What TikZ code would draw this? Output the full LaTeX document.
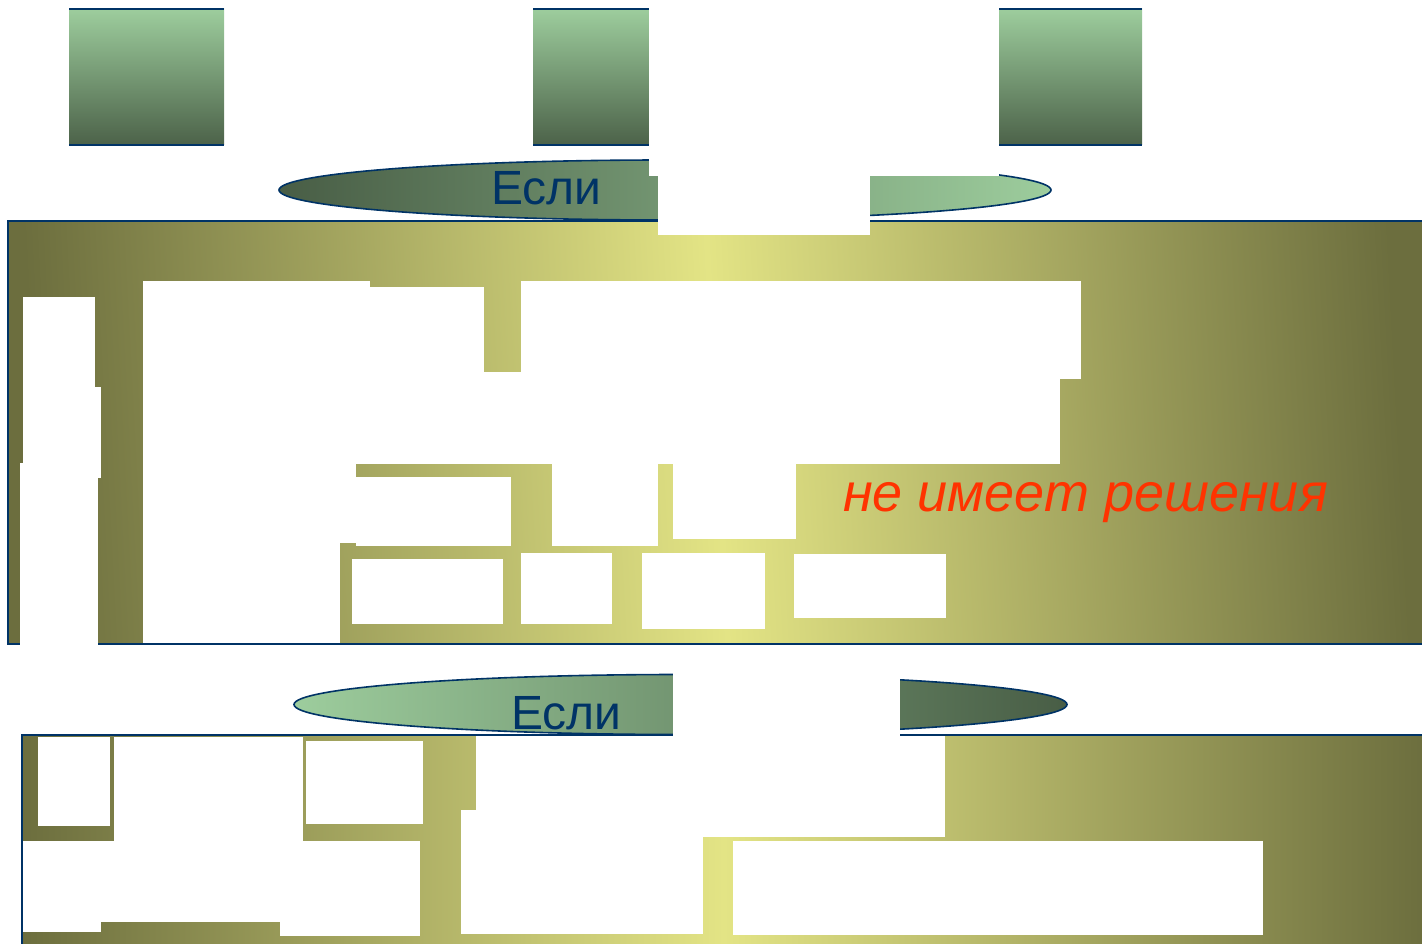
\documentclass[tikz,border=0pt]{standalone}
\usepackage{fontspec}
\setmainfont{Liberation Sans}
\definecolor{bord}{RGB}{0,51,102}
\definecolor{olivedark}{RGB}{108,110,62}
\definecolor{olivelight}{RGB}{227,228,133}
\definecolor{greenlight}{RGB}{157,205,157}
\definecolor{greendark}{RGB}{76,98,73}
\definecolor{redtext}{RGB}{255,51,0}
\tikzset{
  bordline/.style={draw=bord, line width=2pt},
  sq/.style={top color=greenlight, bottom color=greendark},
  blank/.style={fill=white},
  esli/.style={inner sep=0pt, anchor=base west, text=bord, font=\fontsize{48}{50}\selectfont},
}
\begin{document}
\begin{tikzpicture}[x=1pt,y=-1pt]
\useasboundingbox (0,0) rectangle (1422,944);
% top squares
\foreach \a/\b in {69/224, 533/649, 999/1142}{
  \shade[sq] (\a,9) rectangle (\b,145);
  \draw[bordline] (\a,9) -- (\b,9);
  \draw[bordline] (\a,145) -- (\b,145);
}
% ellipse 1
\shade[left color=greendark!95!black, right color=greenlight] (665,190) ellipse [x radius=386, y radius=30];
\draw[bord, line width=1.6pt] (665,190) ellipse [x radius=386, y radius=30];
\fill[blank] (649,0) rectangle (999,176);
% panel 1
\shade[left color=olivedark, right color=olivedark, middle color=olivelight, shading angle=93] (8,221) rectangle (1425,644);
\draw[bordline] (1425,221) -- (8,221) -- (8,644) -- (1425,644);
\fill[blank] (658,176) rectangle (870,235);
% panel 1 blanks
\fill[blank] (23,297) rectangle (95,463);
\fill[blank] (23,387) rectangle (101,478);
\fill[blank] (20,463) rectangle (98,646);
\fill[blank] (143,281) rectangle (340,643);
\fill[blank] (143,281) rectangle (370,372);
\fill[blank] (370,287) rectangle (484,372);
\fill[blank] (521,281) rectangle (1081,379);
\fill[blank] (143,372) rectangle (1060,464);
\fill[blank] (143,372) rectangle (356,543);
\fill[blank] (356,477) rectangle (511,546);
\fill[blank] (552,464) rectangle (658,546);
\fill[blank] (673,464) rectangle (796,539);
\fill[blank] (352,559) rectangle (503,624);
\fill[blank] (521,553) rectangle (612,624);
\fill[blank] (642,553) rectangle (765,629);
\fill[blank] (794,554) rectangle (946,618);
\node[esli] (esli1) at (491,205) {Если};
\node[inner sep=0pt, anchor=base west, text=redtext, font=\fontsize{54}{58}\selectfont\itshape] (nores) at (843,511) {не имеет решения};
% ellipse 2
\shade[left color=greenlight, right color=greendark!95!black] (680.5,704.5) ellipse [x radius=386.5, y radius=30];
\draw[bord, line width=1.6pt] (680.5,704.5) ellipse [x radius=386.5, y radius=30];
% panel 2
\shade[left color=olivedark, right color=olivedark, middle color=olivelight, shading angle=90] (22,735) rectangle (1425,950);
\draw[bordline] (1425,735) -- (22,735) -- (22,950);
\fill[blank] (673,666) rectangle (900,736);
% panel 2 blanks
\fill[blank] (38,736.5) rectangle (110,826);
\fill[blank] (114,736.5) rectangle (303,841);
\fill[blank] (306,741) rectangle (423,824);
\fill[blank] (23,841) rectangle (420,922);
\fill[blank] (23,841) rectangle (101,932);
\fill[blank] (280,841) rectangle (420,936);
\fill[blank] (476,736) rectangle (945,837);
\fill[blank] (461,810) rectangle (703,934);
\fill[blank] (733,841) rectangle (1263,935);
\node[esli] (esli2) at (511,729) {Если};
\end{tikzpicture}
\end{document}
